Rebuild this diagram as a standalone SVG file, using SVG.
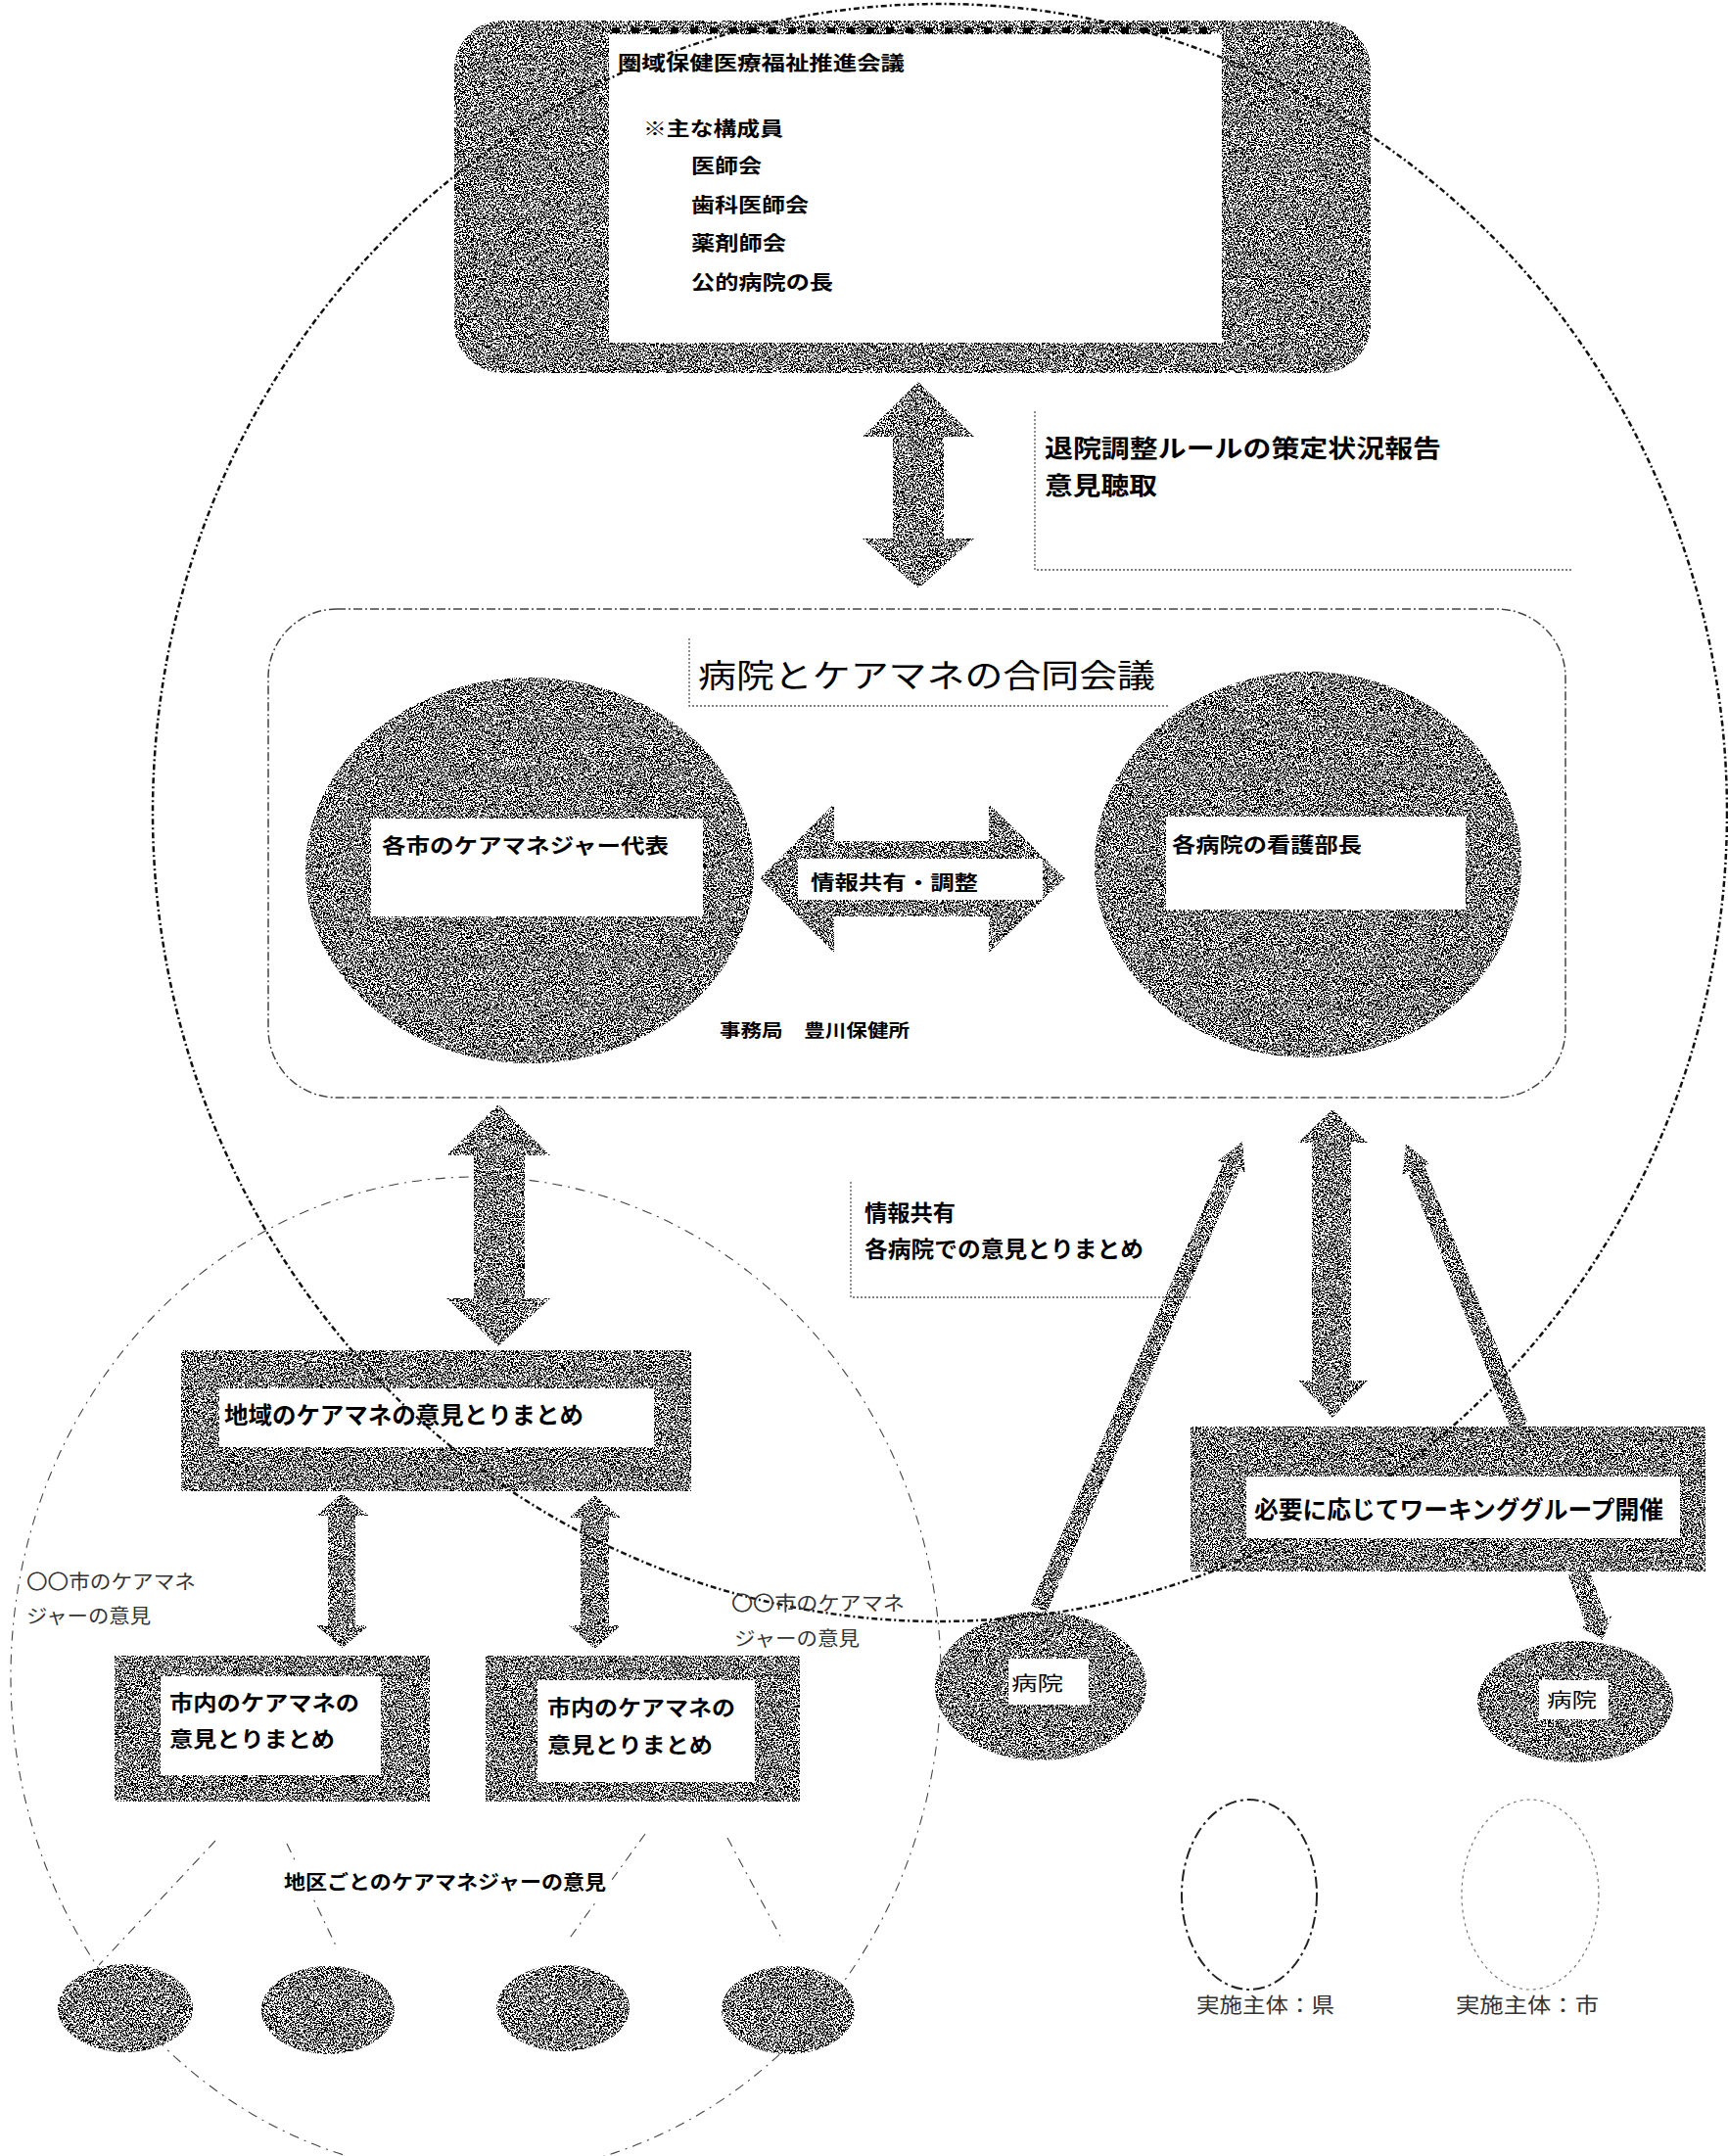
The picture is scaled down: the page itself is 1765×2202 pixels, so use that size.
<svg xmlns="http://www.w3.org/2000/svg" width="1765" height="2202" viewBox="0 0 1765 2202">
<defs>
  <filter id="nz" x="0" y="0" width="1" height="1" color-interpolation-filters="sRGB">
    <feTurbulence type="fractalNoise" baseFrequency="0.65" numOctaves="2" seed="7" result="t"/>
    <feColorMatrix in="t" type="matrix" values="0 0 0 0 0  0 0 0 0 0  0 0 0 0 0  1 0 0 0 0" result="r"/>
    <feComponentTransfer in="r" result="m">
      <feFuncA type="discrete" tableValues="1 1 1 1 1 1 1 1 1 1 0 0 0 0 0 0 0 0 0 0"/>
    </feComponentTransfer>
    <feComposite in="m" in2="SourceGraphic" operator="in"/>
  </filter>
</defs>
<style>
  .nz { fill:#000; filter:url(#nz); }
  .wh { fill:#fff; }
  .t { font-family:"Noto Sans CJK JP","Noto Sans CJK SC",sans-serif; font-weight:700; fill:#000; dominant-baseline:central; }
  .n { font-weight:400; }
  .lt { font-weight:400; fill:#333; }
  .big { fill:none; stroke:#111; stroke-width:2.5; stroke-dasharray:6 3 2 3; }
  .thin { fill:none; stroke:#444; stroke-width:1.1; stroke-dasharray:10 6 2 6; }
  .dot { fill:none; stroke:#555; stroke-width:1.3; stroke-dasharray:2 2; }
  .frame { fill:none; stroke:#444; stroke-width:1.5; stroke-dasharray:9 3 2 3; }
</style>
<rect width="1765" height="2202" fill="#fff"/>

<g id="top-council">
  <rect class="nz" x="464" y="21" width="936" height="360" rx="50"/>
  <rect class="wh" x="622" y="35" width="626" height="315"/>
  <line x1="625" y1="31" x2="1245" y2="31" stroke="#000" stroke-width="6" stroke-dasharray="8 12"/>
  <text class="t" x="631" y="63" font-size="20" textLength="293" lengthAdjust="spacingAndGlyphs">圏域保健医療福祉推進会議</text>
  <text class="t" x="657" y="130" font-size="20" textLength="143" lengthAdjust="spacingAndGlyphs">※主な構成員</text>
  <text class="t" x="706" y="168" font-size="20" textLength="72" lengthAdjust="spacingAndGlyphs">医師会</text>
  <text class="t" x="706" y="208" font-size="20" textLength="120" lengthAdjust="spacingAndGlyphs">歯科医師会</text>
  <text class="t" x="706" y="247" font-size="20" textLength="97" lengthAdjust="spacingAndGlyphs">薬剤師会</text>
  <text class="t" x="706" y="287" font-size="20" textLength="145" lengthAdjust="spacingAndGlyphs">公的病院の長</text>
</g>

<g id="label-report">
  <polyline class="dot" points="1057,420 1057,582 1605,582"/>
  <text class="t" x="1067" y="456" font-size="25" textLength="405" lengthAdjust="spacingAndGlyphs">退院調整ルールの策定状況報告</text>
  <text class="t" x="1067" y="494" font-size="25" textLength="115" lengthAdjust="spacingAndGlyphs">意見聴取</text>
</g>

<g id="joint-meeting">
  <rect class="frame" x="274" y="622" width="1325" height="499" rx="70"/>
  <polyline class="dot" points="704,652 704,721 1195,721"/>
  <text class="t n" x="713" y="688" font-size="33" textLength="467" lengthAdjust="spacingAndGlyphs">病院とケアマネの合同会議</text>
  <text class="t" x="735" y="1051" font-size="18" textLength="194" lengthAdjust="spacingAndGlyphs">事務局　豊川保健所</text>
</g>

<g id="caremanager-reps">
  <ellipse class="nz" cx="541" cy="889" rx="229" ry="197"/>
  <rect class="wh" x="379" y="836" width="339" height="100"/>
  <text class="t" x="390" y="862" font-size="21" textLength="293" lengthAdjust="spacingAndGlyphs">各市のケアマネジャー代表</text>
</g>

<g id="nursing-directors">
  <ellipse class="nz" cx="1336" cy="883" rx="218" ry="197"/>
  <rect class="wh" x="1191" y="834" width="306" height="95"/>
  <text class="t" x="1197" y="861" font-size="21" textLength="194" lengthAdjust="spacingAndGlyphs">各病院の看護部長</text>
</g>

<g id="label-share">
  <polyline class="dot" points="869,1207 869,1325 1216,1325"/>
  <text class="t" x="883" y="1237" font-size="23" textLength="93" lengthAdjust="spacingAndGlyphs">情報共有</text>
  <text class="t" x="883" y="1274" font-size="23" textLength="285" lengthAdjust="spacingAndGlyphs">各病院での意見とりまとめ</text>
</g>

<g id="regional-summary">
  <rect class="nz" x="185" y="1379" width="521" height="144"/>
  <rect class="wh" x="224" y="1418" width="444" height="60"/>
  <text class="t" x="229" y="1443" font-size="24" textLength="367" lengthAdjust="spacingAndGlyphs">地域のケアマネの意見とりまとめ</text>
</g>

<g id="city-summary-1">
  <rect class="nz" x="117" y="1691" width="322" height="149"/>
  <rect class="wh" x="164" y="1712" width="225" height="101"/>
  <text class="t" x="173" y="1737" font-size="22" textLength="194" lengthAdjust="spacingAndGlyphs">市内のケアマネの</text>
  <text class="t" x="173" y="1774" font-size="22" textLength="169" lengthAdjust="spacingAndGlyphs">意見とりまとめ</text>
</g>

<g id="city-summary-2">
  <rect class="nz" x="496" y="1691" width="321" height="149"/>
  <rect class="wh" x="549" y="1716" width="222" height="104"/>
  <text class="t" x="559" y="1742" font-size="22" textLength="192" lengthAdjust="spacingAndGlyphs">市内のケアマネの</text>
  <text class="t" x="559" y="1780" font-size="22" textLength="169" lengthAdjust="spacingAndGlyphs">意見とりまとめ</text>
</g>

<g id="label-city-1">
  <text class="t lt" x="27" y="1614" font-size="20" textLength="173" lengthAdjust="spacingAndGlyphs">〇〇市のケアマネ</text>
  <text class="t lt" x="27" y="1649" font-size="20" textLength="127" lengthAdjust="spacingAndGlyphs">ジャーの意見</text>
</g>

<g id="district-1"><ellipse class="nz" cx="128" cy="2051" rx="69" ry="45"/></g>
<g id="district-2"><ellipse class="nz" cx="335" cy="2053" rx="68" ry="45"/></g>
<g id="district-3"><ellipse class="nz" cx="575" cy="2051" rx="68" ry="44"/></g>
<g id="district-4"><ellipse class="nz" cx="805" cy="2053" rx="68" ry="45"/></g>

<g id="hospital-1">
  <ellipse class="nz" cx="1063" cy="1722" rx="108" ry="76"/>
  <rect class="wh" x="1030" y="1694" width="82" height="47"/>
  <text class="t n" x="1033" y="1718" font-size="20" textLength="53" lengthAdjust="spacingAndGlyphs">病院</text>
</g>

<g id="hospital-2">
  <ellipse class="nz" cx="1609" cy="1738" rx="100" ry="62"/>
  <rect class="wh" x="1572" y="1716" width="71" height="40"/>
  <text class="t n" x="1580" y="1735" font-size="20" textLength="51" lengthAdjust="spacingAndGlyphs">病院</text>
</g>

<g id="connectors">
  <polygon class="nz" points="938,390 995,446 964,446 964,550 995,550 938,601 881,550 912,550 912,446 881,446"/>
  <polygon class="nz" points="776,897 852,821 852,859 1010,859 1010,821 1088,897 1010,973 1010,936 852,936 852,973"/>
  <rect class="wh" x="815" y="877" width="250" height="42"/>
  <text class="t" x="828" y="900" font-size="20" textLength="171" lengthAdjust="spacingAndGlyphs">情報共有・調整</text>
  <polygon class="nz" points="509,1128 562,1180 536,1180 536,1326 562,1326 509,1375 456,1326 484,1326 484,1180 456,1180"/>
  <polygon class="nz" points="1361,1133 1397,1167 1380,1167 1380,1410 1397,1410 1361,1448 1326,1410 1340,1410 1340,1167 1326,1167"/>
  <polygon class="nz" points="349.5,1525 377,1548 363,1548 363,1660 377,1660 349.5,1683 323,1660 335,1660 335,1548 323,1548"/>
  <polygon class="nz" points="607.5,1527 634,1550 622,1550 622,1660 634,1660 607.5,1684 581,1660 593,1660 593,1550 581,1550"/>
  <polygon class="nz" points="1269,1166 1271.6,1197.7 1266.1,1195.3 1069.3,1646.6 1052.7,1639.4 1249.5,1188.1 1244,1185.7"/>
  <polygon class="nz" points="1436,1168 1460.3,1188.4 1454.8,1190.6 1560.4,1453.6 1543.6,1460.4 1438,1197.4 1432.5,1199.6"/>
  <polygon class="nz" points="1637,1675 1646.3,1650.5 1640.7,1652.5 1622.4,1601.3 1601.6,1608.7 1619.9,1659.9 1614.3,1661.9"/>
  <line class="thin" x1="220" y1="1880" x2="101" y2="2007"/>
  <line class="thin" x1="293" y1="1883" x2="343" y2="1987"/>
  <line class="thin" x1="659" y1="1873" x2="580" y2="1982"/>
  <line class="thin" x1="743" y1="1877" x2="800" y2="1983"/>
</g>

<g id="label-district">
  <rect class="wh" x="285" y="1900" width="340" height="40"/>
  <text class="t" x="290" y="1921" font-size="20" textLength="329" lengthAdjust="spacingAndGlyphs">地区ごとのケアマネジャーの意見</text>
</g>

<g id="area-prefecture">
  <ellipse class="big" cx="960" cy="830" rx="804" ry="826"/>
</g>
<g id="area-city">
  <ellipse class="thin" cx="486" cy="1712" rx="475" ry="510"/>
</g>

<g id="label-city-2">
  <text class="t lt" x="747" y="1636" font-size="20" textLength="177" lengthAdjust="spacingAndGlyphs">〇〇市のケアマネ</text>
  <text class="t lt" x="750" y="1672" font-size="20" textLength="128" lengthAdjust="spacingAndGlyphs">ジャーの意見</text>
</g>

<g id="working-group">
  <rect class="nz" x="1216" y="1457" width="526" height="148"/>
  <rect class="wh" x="1273" y="1508" width="443" height="63"/>
  <text class="t" x="1281" y="1540" font-size="25" textLength="418" lengthAdjust="spacingAndGlyphs">必要に応じてワーキンググループ開催</text>
</g>

<g id="legend-prefecture">
  <ellipse cx="1276" cy="1935" rx="69" ry="97" fill="none" stroke="#222" stroke-width="2" stroke-dasharray="12 4 3 4"/>
  <text class="t lt" x="1222" y="2046" font-size="21" textLength="141" lengthAdjust="spacingAndGlyphs">実施主体：県</text>
</g>
<g id="legend-city">
  <ellipse cx="1563" cy="1935" rx="70" ry="97" fill="none" stroke="#777" stroke-width="1.2" stroke-dasharray="3 4"/>
  <text class="t lt" x="1487" y="2046" font-size="21" textLength="146" lengthAdjust="spacingAndGlyphs">実施主体：市</text>
</g>
</svg>
